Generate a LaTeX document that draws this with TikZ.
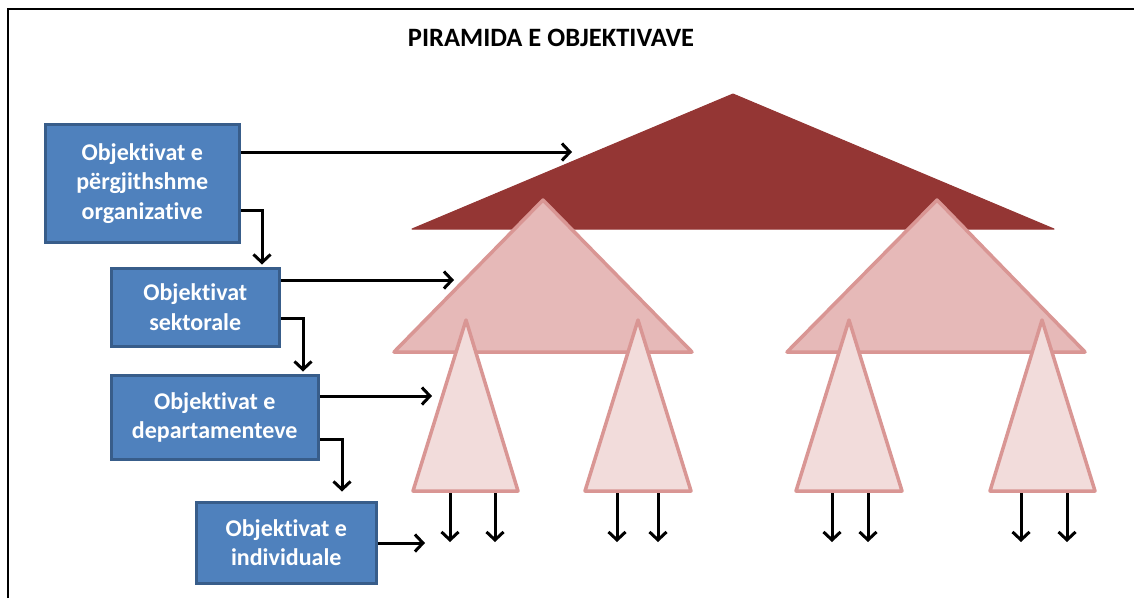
\documentclass[tikz,border=0pt]{standalone}
\usepackage{fontspec}
\setmainfont{Carlito}[Ligatures=NoCommon]
\usetikzlibrary{arrows.meta}
\definecolor{boxfill}{HTML}{4F81BD}
\definecolor{boxedge}{HTML}{385D8A}
\definecolor{topred}{HTML}{943634}
\definecolor{midpink}{HTML}{E6B9B8}
\definecolor{lowpink}{HTML}{F2DCDB}
\definecolor{pinkedge}{HTML}{D99694}
\begin{document}
\begin{tikzpicture}[x=1pt,y=-1pt,
  objbox/.style={draw=boxedge, line width=3.5pt, fill=boxfill, text=white,
    font=\fontsize{24}{29.5}\selectfont\bfseries, align=center,
    inner sep=0pt, anchor=north west},
  arr/.style={draw=black, line width=3pt,
    -{Straight Barb[length=8pt,width=17pt,line width=3pt]}},
  bigtri/.style={fill=topred, draw=topred, line width=1pt, line join=round},
  midtri/.style={fill=midpink, draw=pinkedge, line width=3.5pt, line join=round},
  lowtri/.style={fill=lowpink, draw=pinkedge, line width=3.5pt, line join=round}]
\useasboundingbox (0,0) rectangle (1134,598);

% frame
\draw[line width=2.5pt] (8,598) -- (8,9) -- (1134,9);

% title
\node[font=\fontsize{26.5}{30}\selectfont\bfseries] (title) at (551,38) {PIRAMIDA E OBJEKTIVAVE};

% pyramid of objectives
\draw[bigtri] (733,94) -- (1054,229) -- (412,229) -- cycle;
\draw[midtri] (543,200) -- (692,352) -- (394,352) -- cycle;
\draw[midtri] (937,200) -- (1085,352) -- (787,352) -- cycle;
\draw[lowtri] (466,320) -- (518,491) -- (413,491) -- cycle;
\draw[lowtri] (638,320) -- (691,491) -- (585,491) -- cycle;
\draw[lowtri] (849,320) -- (902,491) -- (796,491) -- cycle;
\draw[lowtri] (1042,320) -- (1095,491) -- (990,491) -- cycle;

% arrow targets on the pyramid
\coordinate (p1) at (572,152);
\coordinate (p2) at (454,280);
\coordinate (p3) at (432,396);
\coordinate (p4) at (425,543);

% levels of objectives
\node[objbox, minimum width=194pt, minimum height=118pt] (b1) at (43.5,122.5)
  {Objektivat e\\përgjithshme\\organizative};
\node[objbox, minimum width=168pt, minimum height=78pt] (b2) at (109.5,266.5)
  {Objektivat\\sektorale};
\node[objbox, minimum width=207pt, minimum height=84pt] (b3) at (109.5,373.5)
  {Objektivat e\\departamenteve};
\node[objbox, minimum width=180pt, minimum height=81pt] (b4) at (194.5,500.5)
  {Objektivat e\\individuale};

% links into the pyramid
\draw[arr] (b1.east |- p1) -- (p1);
\draw[arr] (b2.east |- p2) -- (p2);
\draw[arr] (b3.east |- p3) -- (p3);
\draw[arr] (b4.east |- p4) -- (p4);

% cascade between levels
\draw[arr, shorten >=2pt] (b1.east |- 0,210) -| (b2.north -| 262,0);
\draw[arr, shorten >=2pt] (b2.east |- 0,318) -| (b3.north -| 303,0);
\draw[arr, shorten >=9pt] (b3.east |- 0,439) -| (b4.north -| 342,0);

% objectives passed further down
\foreach \n/\x in {1/450,2/495,3/617,4/658,5/832,6/868,7/1021,8/1067}{
  \coordinate (u\n) at (\x,493);
  \coordinate (d\n) at (\x,542);
  \draw[arr] (u\n) -- (d\n);
}
\end{tikzpicture}
\end{document}
